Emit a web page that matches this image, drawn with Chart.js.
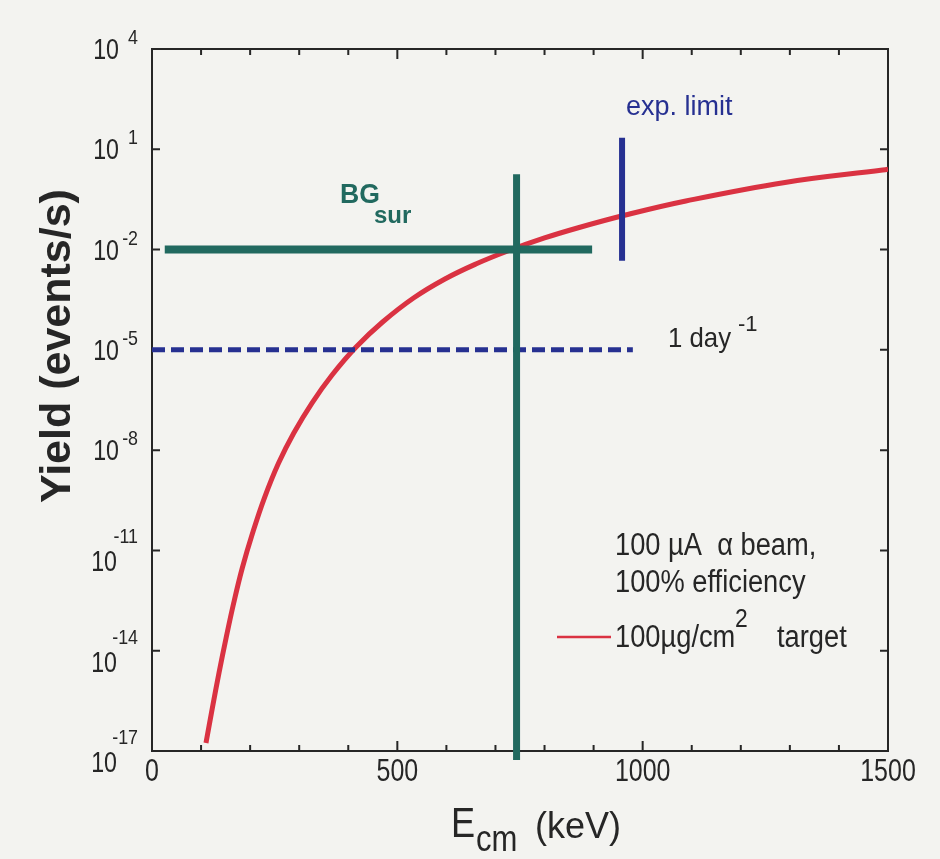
<!DOCTYPE html>
<html>
<head>
<meta charset="utf-8">
<title>Yield vs E_cm</title>
<script src="https://cdn.jsdelivr.net/npm/chart.js@4"></script>
<style>
  html, body { margin: 0; padding: 0; background: #f3f3f0; }
  canvas { display: block; }
</style>
</head>
<body>
<canvas id="yieldChart" width="940" height="859"></canvas>
<script>
// yield curve, 100 uA alpha beam on 100 ug/cm2 target
const energyKeV = [110, 123, 136.5, 151, 166.5, 184, 205, 229, 258, 289, 326, 367, 416, 470, 533, 597, 660, 725, 800, 867, 965, 1088, 1290, 1489, 1500];
const yieldRate = [1.74e-17, 1.93e-16, 2.15e-15, 2.40e-14, 2.67e-13, 2.98e-12, 3.32e-11, 3.70e-10, 4.12e-9, 3.26e-8, 2.57e-7, 1.77e-6, 1.22e-5, 6.81e-5, 3.56e-4, 1.32e-3, 3.70e-3, 9.06e-3, 2.22e-2, 4.42e-2, 0.108, 0.284, 1.02, 2.40, 2.52];

// surface background level (horizontal) and the energy where the curve meets it (vertical)
const bgLevel = 1e-2;
const bgRangeKeV = [26, 897];
const bgEnergyKeV = 743;
const bgEnergyRange = [1.8, 5.4e-18];

// experimental limit marker
const expLimitKeV = 958;
const expLimitRange = [22, 4.6e-3];

// one event per day
const dayRate = 1e-5;
const dayRangeKeV = [0, 980];

// axes
const xTicks = [0, 500, 1000, 1500];
const xMinorStep = 100;
const yTickExponents = [-17, -14, -11, -8, -5, -2, 1, 4];

const TEAL = 'rgb(33,105,95)';
const BLUE = 'rgb(38,48,145)';
const RED = 'rgb(218,50,66)';
const INK = '#262626';
const FONT = '"Liberation Sans", Arial, Helvetica, sans-serif';

function txt(ctx, s, x, y, size, opts = {}) {
  ctx.save();
  ctx.translate(x, y);
  ctx.scale(opts.sx || 1, 1);
  ctx.font = (opts.bold ? 'bold ' : '') + size + 'px ' + FONT;
  ctx.fillStyle = opts.color || INK;
  ctx.textAlign = opts.align || 'left';
  ctx.textBaseline = 'alphabetic';
  ctx.fillText(s, 0, 0);
  ctx.restore();
}

const plotFrame = {
  id: 'plotFrame',
  beforeDraw(chart) {
    const ctx = chart.ctx;
    ctx.save();
    ctx.fillStyle = '#f3f3f0';
    ctx.fillRect(0, 0, chart.width, chart.height);
    ctx.restore();
  },
  beforeDatasetsDraw(chart) {
    const { ctx, chartArea: a } = chart;
    const xs = chart.scales.x, ys = chart.scales.y;
    ctx.save();
    ctx.strokeStyle = INK;
    ctx.lineWidth = 2;
    ctx.strokeRect(a.left, a.top, a.right - a.left, a.bottom - a.top);

    // x ticks, bottom and top, pointing inward
    ctx.beginPath();
    for (let v = xs.min + xMinorStep; v < xs.max; v += xMinorStep) {
      const px = xs.getPixelForValue(v);
      const len = xTicks.includes(v) ? 10 : 6;
      ctx.moveTo(px, a.bottom); ctx.lineTo(px, a.bottom - len);
      ctx.moveTo(px, a.top); ctx.lineTo(px, a.top + len);
    }
    // y ticks, left and right
    yTickExponents.forEach(e => {
      const py = ys.getPixelForValue(Math.pow(10, e));
      ctx.moveTo(a.left, py); ctx.lineTo(a.left + 8, py);
      ctx.moveTo(a.right, py); ctx.lineTo(a.right - 8, py);
    });
    ctx.stroke();
    ctx.restore();

    // tick labels
    xTicks.forEach(v => {
      txt(ctx, String(v), xs.getPixelForValue(v), 781, 32, { sx: 0.78, align: 'center' });
    });
    yTickExponents.forEach(e => {
      const py = ys.getPixelForValue(Math.pow(10, e));
      const s = String(e);
      const long = s.length >= 3;
      txt(ctx, '10', long ? 117 : 119, py + (long ? 21 : 10), 29, { sx: 0.8, align: 'right' });
      txt(ctx, s, 138, py - (long ? 7 : 5), 21, { sx: 0.85, align: 'right' });
    });

    // axis titles
    ctx.save();
    ctx.translate(70, 346);
    ctx.rotate(-Math.PI / 2);
    txt(ctx, 'Yield (events/s)', 0, 0, 43, { bold: true, align: 'center' });
    ctx.restore();
    txt(ctx, 'E', 451, 837, 43, { sx: 0.84 });
    txt(ctx, 'cm', 476, 851, 37, { sx: 0.84 });
    txt(ctx, '(keV)', 535, 838, 36);
  },
  afterDatasetsDraw(chart) {
    const ctx = chart.ctx;
    txt(ctx, 'BG', 340, 203, 28, { bold: true, color: TEAL, sx: 0.95 });
    txt(ctx, 'sur', 374, 223, 24, { bold: true, color: TEAL });
    txt(ctx, 'exp. limit', 626, 115, 27, { color: BLUE });
    txt(ctx, '1 day', 668, 347, 28, { sx: 0.92 });
    txt(ctx, '-1', 738, 331, 22);

    txt(ctx, '100 \u00b5A  \u03b1 beam,', 615, 555, 31, { sx: 0.88 });
    txt(ctx, '100% efficiency', 615, 592, 31, { sx: 0.88 });
    txt(ctx, '100\u00b5g/cm', 615, 647, 31, { sx: 0.88 });
    txt(ctx, '2', 735, 627, 26, { sx: 0.88 });
    txt(ctx, 'target', 777, 647, 31, { sx: 0.88 });

    ctx.save();
    ctx.strokeStyle = RED;
    ctx.lineWidth = 2.5;
    ctx.beginPath();
    ctx.moveTo(557, 637);
    ctx.lineTo(611, 637);
    ctx.stroke();
    ctx.restore();
  }
};

const flat = { showLine: true, pointRadius: 0, pointHoverRadius: 0, fill: false };

new Chart(document.getElementById('yieldChart'), {
  type: 'scatter',
  data: {
    datasets: [
      {
        ...flat, label: 'exp. limit', borderColor: BLUE, borderWidth: 6,
        data: expLimitRange.map(y => ({ x: expLimitKeV, y }))
      },
      {
        ...flat, label: 'BG energy', borderColor: TEAL, borderWidth: 7, clip: false,
        data: bgEnergyRange.map(y => ({ x: bgEnergyKeV, y }))
      },
      {
        ...flat, label: 'BG sur', borderColor: TEAL, borderWidth: 8,
        data: bgRangeKeV.map(x => ({ x, y: bgLevel }))
      },
      {
        ...flat, label: '1 day^-1', borderColor: BLUE, borderWidth: 5, borderDash: [13, 6],
        data: dayRangeKeV.map(x => ({ x, y: dayRate }))
      },
      {
        ...flat, label: '100 ug/cm2 target', borderColor: RED, borderWidth: 5,
        tension: 0.4,
        data: energyKeV.map((x, i) => ({ x, y: yieldRate[i] }))
      }
    ]
  },
  options: {
    responsive: false,
    animation: false,
    layout: { padding: { left: 152, top: 49, right: 52, bottom: 108 } },
    scales: {
      x: { type: 'linear', min: 0, max: 1500, display: false },
      y: { type: 'logarithmic', min: 1e-17, max: 1e4, display: false }
    },
    plugins: { legend: { display: false }, tooltip: { enabled: false } }
  },
  plugins: [plotFrame]
});
</script>
</body>
</html>
